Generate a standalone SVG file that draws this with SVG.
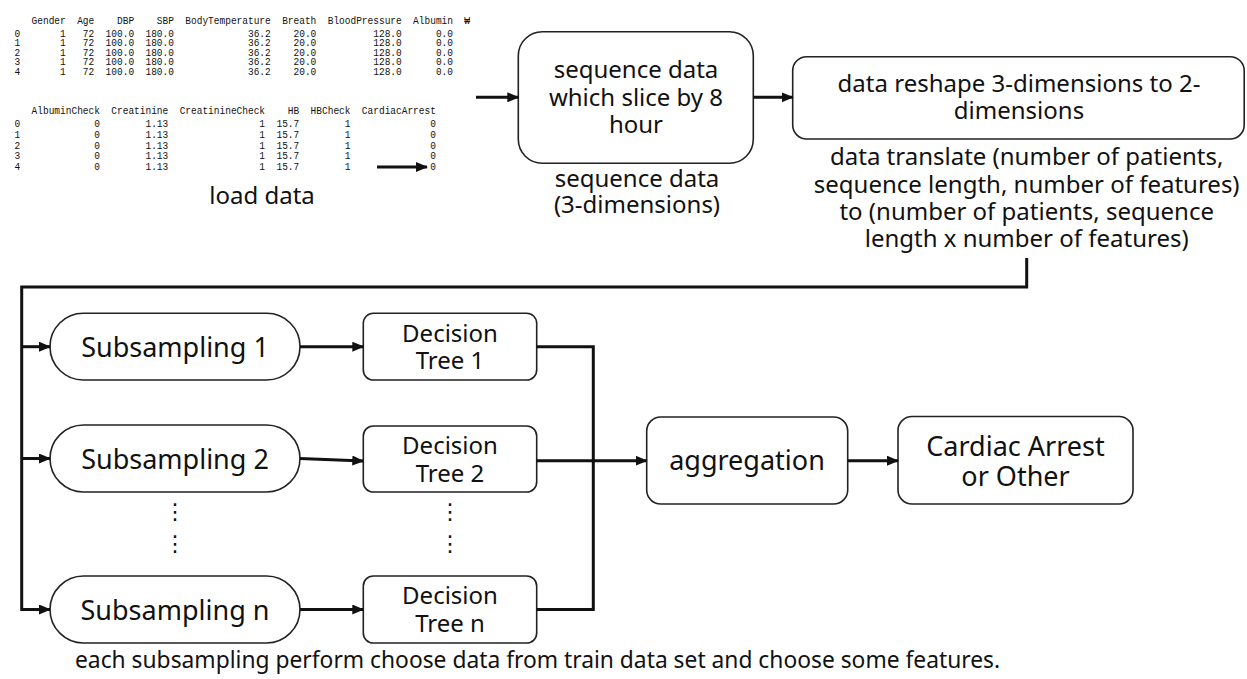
<svg xmlns="http://www.w3.org/2000/svg" width="1247" height="679" viewBox="0 0 1247 679">
<style>
.bg{fill:#ffffff}
.box{fill:#ffffff;stroke:#222;stroke-width:1.6}
.lbl{font-family:"Noto Sans","Open Sans","DejaVu Sans",sans-serif;fill:#111;text-anchor:middle}
.l24{font-size:24px}
.l27{font-size:27px}
.tbl{font-family:"Liberation Mono","DejaVu Sans Mono",monospace;font-size:11px;fill:#111;white-space:pre}
.dots{font-family:"DejaVu Sans",sans-serif;font-size:22px;fill:#111;text-anchor:middle}
.conn{fill:none;stroke:#111;stroke-width:3}
</style>
<defs>
<marker id="ah" markerUnits="userSpaceOnUse" markerWidth="12" markerHeight="10" refX="11" refY="5" orient="auto">
<path d="M0,0 L12,5 L0,10 z" fill="#111"/>
</marker>
</defs>
<rect class="bg" x="0" y="0" width="1247" height="679"/>

<g id="load-data">
<text class="tbl" xml:space="preserve" transform="translate(14.5,0) scale(0.8636,1)"><tspan x="0" y="24">   Gender  Age    DBP    SBP  BodyTemperature  Breath  BloodPressure  Albumin  ₩</tspan><tspan x="0" y="36.8">0       1   72  100.0  180.0             36.2    20.0          128.0      0.0</tspan><tspan x="0" y="46.3">1       1   72  100.0  180.0             36.2    20.0          128.0      0.0</tspan><tspan x="0" y="55.8">2       1   72  100.0  180.0             36.2    20.0          128.0      0.0</tspan><tspan x="0" y="65.3">3       1   72  100.0  180.0             36.2    20.0          128.0      0.0</tspan><tspan x="0" y="74.8">4       1   72  100.0  180.0             36.2    20.0          128.0      0.0</tspan></text>
<text class="tbl" xml:space="preserve" transform="translate(14.5,0) scale(0.8636,1)"><tspan x="0" y="114">   AlbuminCheck  Creatinine  CreatinineCheck    HB  HBCheck  CardiacArrest</tspan><tspan x="0" y="127.3">0             0        1.13                1  15.7        1              0</tspan><tspan x="0" y="138">1             0        1.13                1  15.7        1              0</tspan><tspan x="0" y="148.7">2             0        1.13                1  15.7        1              0</tspan><tspan x="0" y="159.4">3             0        1.13                1  15.7        1              0</tspan><tspan x="0" y="170.1">4             0        1.13                1  15.7        1              0</tspan></text>
<text class="lbl l24" x="262" y="204">load data</text>
</g>

<g id="sequence">
<rect class="box" x="518.3" y="31.7" width="235" height="131.6" rx="24"/>
<text class="lbl l24" x="636" y="78">sequence data</text>
<text class="lbl l24" x="636" y="106">which slice by 8</text>
<text class="lbl l24" x="636" y="133">hour</text>
<text class="lbl l24" x="637" y="187">sequence data</text>
<text class="lbl l24" x="637" y="213">(3-dimensions)</text>
</g>

<g id="reshape">
<rect class="box" x="792.7" y="56.7" width="451.5" height="82.3" rx="14"/>
<text class="lbl l24" x="1019" y="92">data reshape 3-dimensions to 2-</text>
<text class="lbl l24" x="1019" y="119">dimensions</text>
<text class="lbl l24" x="1026.7" y="165">data translate (number of patients,</text>
<text class="lbl l24" x="1026.7" y="192.5">sequence length, number of features)</text>
<text class="lbl l24" x="1026.7" y="220">to (number of patients, sequence</text>
<text class="lbl l24" x="1026.7" y="247">length x number of features)</text>
</g>

<g id="subsampling-1">
<rect class="box" x="50" y="313.3" width="250" height="66.7" rx="33.3"/>
<text class="lbl l27" x="175" y="356.7">Subsampling 1</text>
</g>
<g id="subsampling-2">
<rect class="box" x="50" y="425" width="250" height="67" rx="33.5"/>
<text class="lbl l27" x="175" y="468.5">Subsampling 2</text>
</g>
<g id="subsampling-n">
<rect class="box" x="50" y="576" width="250" height="67" rx="33.5"/>
<text class="lbl l27" x="175" y="619.5">Subsampling n</text>
</g>

<g id="decision-tree-1">
<rect class="box" x="363.3" y="313.3" width="173.4" height="66.7" rx="10"/>
<text class="lbl l24" x="450" y="341.7">Decision</text>
<text class="lbl l24" x="450" y="369">Tree 1</text>
</g>
<g id="decision-tree-2">
<rect class="box" x="363.3" y="426" width="173.4" height="66" rx="10"/>
<text class="lbl l24" x="450" y="454.4">Decision</text>
<text class="lbl l24" x="450" y="481.7">Tree 2</text>
</g>
<g id="decision-tree-n">
<rect class="box" x="363.3" y="576" width="173.4" height="67" rx="10"/>
<text class="lbl l24" x="450" y="604.4">Decision</text>
<text class="lbl l24" x="450" y="631.7">Tree n</text>
</g>

<g id="ellipsis">
<text class="dots" x="175" y="519">⋮</text>
<text class="dots" x="175" y="551">⋮</text>
<text class="dots" x="450" y="519">⋮</text>
<text class="dots" x="450" y="551">⋮</text>
</g>

<g id="aggregation">
<rect class="box" x="646.7" y="417" width="201" height="87" rx="14"/>
<text class="lbl l27" x="747" y="470">aggregation</text>
</g>

<g id="result">
<rect class="box" x="898" y="416.5" width="235" height="87.5" rx="14"/>
<text class="lbl l27" x="1015.5" y="456">Cardiac Arrest</text>
<text class="lbl l27" x="1015.5" y="486">or Other</text>
</g>

<g id="note">
<text class="lbl" x="75" y="668" style="text-anchor:start;font-size:22.8px">each subsampling perform choose data from train data set and choose some features.</text>
</g>

<g id="connectors">
<path class="conn" d="M377,167 H427" marker-end="url(#ah)"/>
<path class="conn" d="M476,97.3 H518.3" marker-end="url(#ah)"/>
<path class="conn" d="M753.3,97.3 H792.7" marker-end="url(#ah)"/>
<path class="conn" d="M1026.7,258 V287 H21.7 V609.5 H50" marker-end="url(#ah)"/>
<path class="conn" d="M21.7,346.7 H50" marker-end="url(#ah)"/>
<path class="conn" d="M21.7,458.5 H50" marker-end="url(#ah)"/>
<path class="conn" d="M300,346.7 H363.3" marker-end="url(#ah)"/>
<path class="conn" d="M300,458.5 L363.3,461" marker-end="url(#ah)"/>
<path class="conn" d="M300,609.5 H363.3" marker-end="url(#ah)"/>
<path class="conn" d="M536.7,346.7 H593.3 V609.5 H536.7"/>
<path class="conn" d="M536.7,460.7 H646.7" marker-end="url(#ah)"/>
<path class="conn" d="M847.7,460.7 H898" marker-end="url(#ah)"/>
</g>
</svg>
